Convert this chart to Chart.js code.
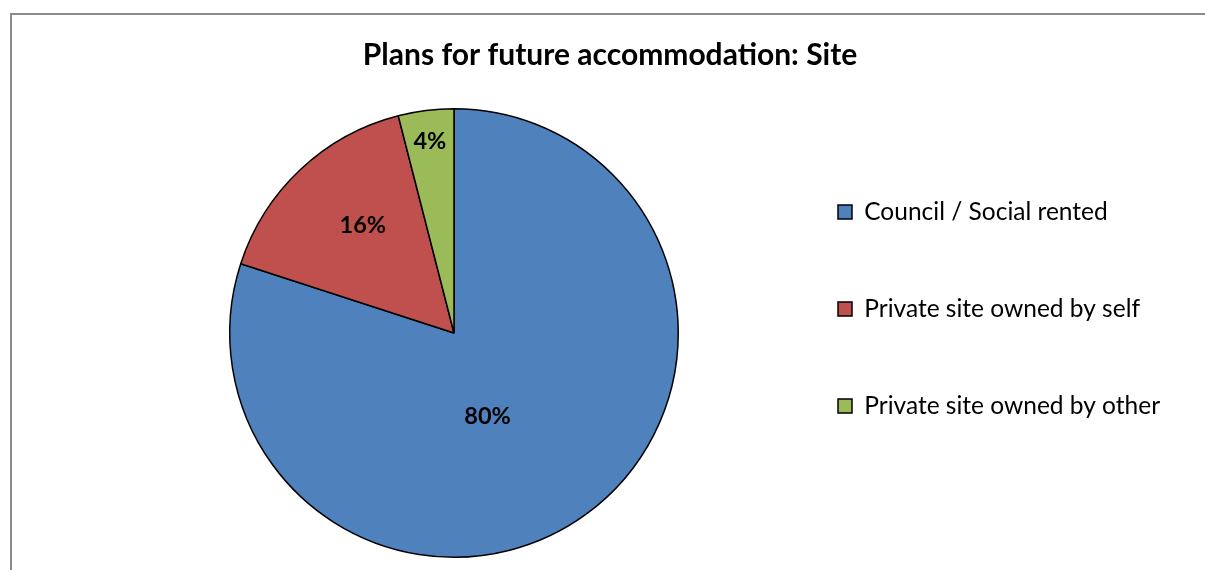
<!DOCTYPE html>
<html>
<head>
<meta charset="utf-8">
<script src="https://cdn.jsdelivr.net/npm/chart.js@4.4.1/dist/chart.umd.min.js"></script>
<style>
  html, body { margin: 0; padding: 0; background: #fff; overflow: hidden; }
  #frame {
    position: absolute; left: 10px; top: 13px;
    width: 1300px; height: 700px;
    border-left: 2px solid #8a8a8a; border-top: 2px solid #8a8a8a;
  }
  canvas { display: block; }
</style>
</head>
<body>
<div id="frame"><canvas id="grafico" width="1193" height="555"></canvas></div>
<script>
const titulo = 'Plans for future accommodation: Site';
const categorias = ['Council / Social rented', 'Private site owned by self', 'Private site owned by other'];
const valores = [80, 16, 4];
const etiquetas = ['80%', '16%', '4%'];
const colores = ['#4F81BD', '#C0504D', '#9BBB59'];
// how far out from the centre each percentage sits (fraction of radius)
const distEtiqueta = [0.40, 0.63, 0.86];
const giroEtiqueta = [14, 3, 0];

const FUENTE = 'Lato, "Open Sans", sans-serif';

// draws the percentages inside each slice
const etiquetasPlugin = {
  id: 'etiquetas',
  afterDatasetsDraw(chart) {
    const ctx = chart.ctx;
    const meta = chart.getDatasetMeta(0);
    ctx.save();
    ctx.font = 'bold 23.5px ' + FUENTE;
    ctx.fillStyle = '#000';
    ctx.textAlign = 'center';
    ctx.textBaseline = 'middle';
    meta.data.forEach((arc, i) => {
      const p = arc.getProps(['x', 'y', 'startAngle', 'endAngle', 'outerRadius'], true);
      const medio = (p.startAngle + p.endAngle) / 2 + giroEtiqueta[i] * Math.PI / 180;
      const r = p.outerRadius * distEtiqueta[i];
      ctx.fillText(etiquetas[i], p.x + Math.cos(medio) * r, p.y + Math.sin(medio) * r);
    });
    ctx.restore();
  }
};

// the legend is kept narrow for the layout (so the title stays centred),
// then its box is widened so the long labels are not cut off
const leyendaAncha = {
  id: 'leyendaAncha',
  afterLayout(chart) {
    const ley = chart.legend;
    ley.right = chart.width;
    ley.width = ley.right - ley.left;
  }
};

const ctx = document.getElementById('grafico').getContext('2d');
new Chart(ctx, {
  type: 'pie',
  data: {
    labels: categorias,
    datasets: [{
      data: valores,
      backgroundColor: colores,
      borderColor: '#000',
      borderWidth: 1.5
    }]
  },
  options: {
    responsive: false,
    animation: false,
    layout: { padding: { left: 130.5, right: 127.5, top: 0, bottom: 12 } },
    plugins: {
      title: {
        display: true,
        text: titulo,
        color: '#000',
        font: { family: FUENTE, size: 30, weight: 'bold' },
        padding: { top: 22, bottom: 35 }
      },
      legend: {
        position: 'right',
        maxWidth: 312,
        // empty title only pushes the entries down a bit
        title: { display: true, text: ' ', padding: 0, font: { size: 37.5 } },
        labels: {
          color: '#000',
          font: { family: FUENTE, size: 24.5 },
          boxWidth: 14,
          boxHeight: 14,
          padding: 72.5
        }
      },
      tooltip: { enabled: false }
    }
  },
  plugins: [etiquetasPlugin, leyendaAncha]
});
</script>
</body>
</html>
